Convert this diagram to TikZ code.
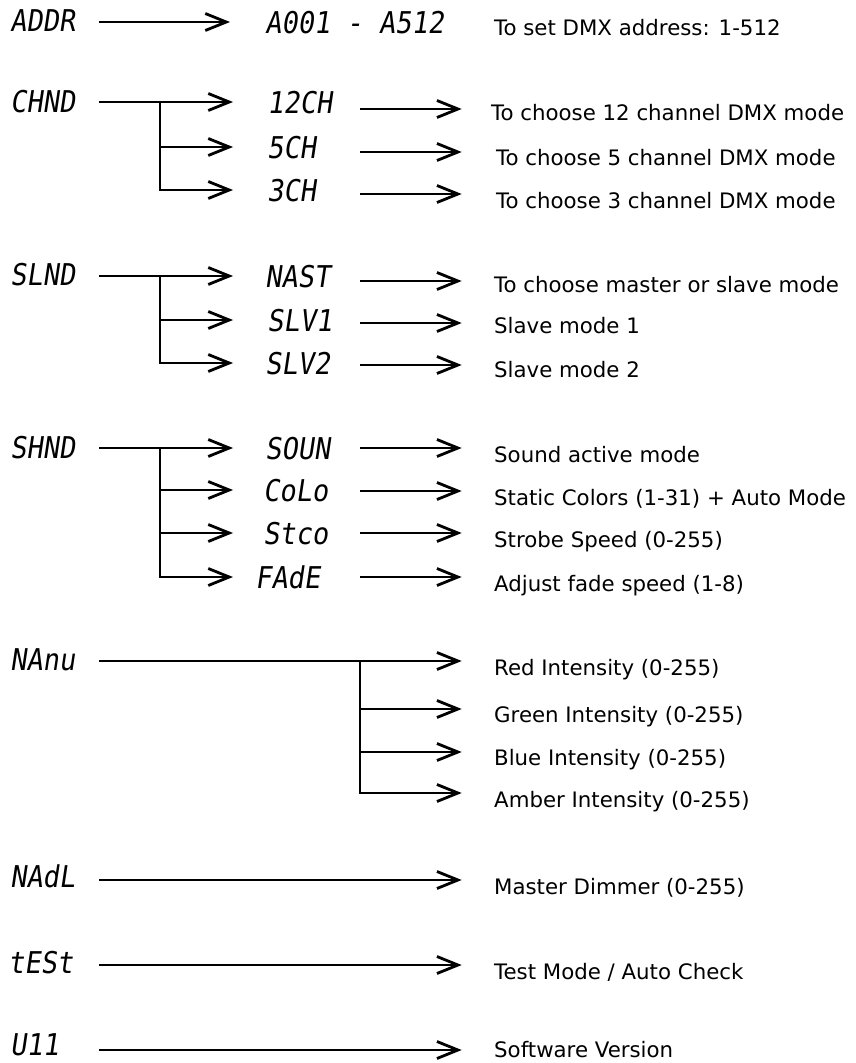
\documentclass[tikz,border=0pt]{standalone}
\usepackage{fontspec}
\usetikzlibrary{arrows.meta}
\newfontfamily\descfam{DejaVu Sans}
\newfontfamily\segfam[FakeSlant=0.15,FakeStretch=0.9]{DejaVu Sans Mono}
\newcommand\segfnt{\segfam\fontsize{30}{30}\selectfont}
\newcommand\descfnt{\descfam\fontsize{21.3}{24}\selectfont}
\tikzset{
  seg/.style={anchor=base west, inner sep=0pt, font=\segfnt},
  desc/.style={anchor=base west, inner sep=0pt, font=\descfnt},
  ln/.style={line width=2.8pt},
  arr/.style={line width=2.8pt, -{Straight Barb[length=21pt,width=17pt,line width=2.8pt]}}
}
\begin{document}
\begin{tikzpicture}[x=1pt,y=-1pt]
\useasboundingbox (0,0) rectangle (855,1063);

% ---------- ADDR ----------
\node[seg] (addr) at (10,31) {ADDR};
\coordinate (addrS) at (99,22);
\coordinate (addrE) at (230,22);
\draw[arr] (addrS) -- (addrE);
\node[seg] (addrV) at (265,33) {A001 - A512};
\node[desc] (addrD) at (494,35) {To set DMX address: 1-512};

% ---------- CHND ----------
\node[seg] (chnd) at (10,112) {CHND};
\coordinate (chS) at (99,102);
\coordinate (chJ) at (160,102);
\coordinate (chA) at (233,102);
\coordinate (chB) at (233,147);
\coordinate (chC) at (233,190);
\draw[arr] (chS) -- (chA);
\draw[arr] (chJ) |- (chC);
\draw[arr] (chJ |- chB) -- (chB);
\node[seg] (ch12) at (267,113) {12CH};
\node[seg] (ch5)  at (267,158) {5CH};
\node[seg] (ch3)  at (267,201) {3CH};
\coordinate (c12a) at (360,109); \coordinate (c12b) at (461.7,109);
\coordinate (c5a)  at (360,152); \coordinate (c5b)  at (461.7,152);
\coordinate (c3a)  at (360,194); \coordinate (c3b)  at (461.7,194);
\draw[arr] (c12a) -- (c12b);
\draw[arr] (c5a) -- (c5b);
\draw[arr] (c3a) -- (c3b);
\node[desc] (d12) at (491,120) {To choose 12 channel DMX mode};
\node[desc] (d5)  at (496,165) {To choose 5 channel DMX mode};
\node[desc] (d3)  at (496,208) {To choose 3 channel DMX mode};

% ---------- SLND ----------
\node[seg] (slnd) at (10,285) {SLND};
\coordinate (slS) at (99,276);
\coordinate (slJ) at (160,276);
\coordinate (slA) at (233,276);
\coordinate (slB) at (233,320);
\coordinate (slC) at (233,363);
\draw[arr] (slS) -- (slA);
\draw[arr] (slJ) |- (slC);
\draw[arr] (slJ |- slB) -- (slB);
\node[seg] (mast) at (265,287) {NAST};
\node[seg] (slv1) at (267,331) {SLV1};
\node[seg] (slv2) at (265,374) {SLV2};
\coordinate (mA) at (360,281); \coordinate (mB) at (461.7,281);
\coordinate (s1A) at (360,323); \coordinate (s1B) at (461.7,323);
\coordinate (s2A) at (360,365); \coordinate (s2B) at (461.7,365);
\draw[arr] (mA) -- (mB);
\draw[arr] (s1A) -- (s1B);
\draw[arr] (s2A) -- (s2B);
\node[desc] (dm)  at (494,292) {To choose master or slave mode};
\node[desc] (ds1) at (494,333) {Slave mode 1};
\node[desc] (ds2) at (494,377) {Slave mode 2};

% ---------- SHND ----------
\node[seg] (shnd) at (10,458) {SHND};
\coordinate (shS) at (99,448);
\coordinate (shJ) at (160,448);
\coordinate (shA) at (233,448);
\coordinate (shB) at (233,490);
\coordinate (shC) at (233,533);
\coordinate (shD) at (233,577);
\draw[arr] (shS) -- (shA);
\draw[arr] (shJ) |- (shD);
\draw[arr] (shJ |- shB) -- (shB);
\draw[arr] (shJ |- shC) -- (shC);
\node[seg] (soun) at (265,459) {SOUN};
\node[seg] (colo) at (263,501) {CoLo};
\node[seg] (stco) at (263,544) {Stco};
\node[seg] (fade) at (255,588) {FAdE};
\coordinate (soA) at (360,448); \coordinate (soB) at (461.7,448);
\coordinate (coA) at (360,491); \coordinate (coB) at (461.7,491);
\coordinate (stA) at (360,533); \coordinate (stB) at (461.7,533);
\coordinate (faA) at (360,577); \coordinate (faB) at (461.7,577);
\draw[arr] (soA) -- (soB);
\draw[arr] (coA) -- (coB);
\draw[arr] (stA) -- (stB);
\draw[arr] (faA) -- (faB);
\node[desc] (dso) at (494,462) {Sound active mode};
\node[desc] (dco) at (494,505) {Static Colors (1-31) + Auto Mode};
\node[desc] (dst) at (494,547) {Strobe Speed (0-255)};
\node[desc] (dfa) at (494,591) {Adjust fade speed (1-8)};

% ---------- NAnu ----------
\node[seg] (nanu) at (10,670) {NAnu};
\coordinate (nuS) at (99,661);
\coordinate (nuJ) at (360,661);
\coordinate (nuA) at (461.7,661);
\coordinate (nuB) at (461.7,709);
\coordinate (nuC) at (461.7,752);
\coordinate (nuD) at (461.7,793);
\draw[arr] (nuS) -- (nuA);
\draw[arr] (nuJ) |- (nuD);
\draw[arr] (nuJ |- nuB) -- (nuB);
\draw[arr] (nuJ |- nuC) -- (nuC);
\node[desc] (dr) at (494,675) {Red Intensity (0-255)};
\node[desc] (dg) at (494,722) {Green Intensity (0-255)};
\node[desc] (db) at (494,765) {Blue Intensity (0-255)};
\node[desc] (da) at (494,807) {Amber Intensity (0-255)};

% ---------- NAdL ----------
\node[seg] (nadl) at (10,887) {NAdL};
\coordinate (ndS) at (99,880); \coordinate (ndE) at (461.7,880);
\draw[arr] (ndS) -- (ndE);
\node[desc] (dnd) at (494,894) {Master Dimmer (0-255)};

% ---------- tESt ----------
\node[seg] (test) at (8,973) {tESt};
\coordinate (tsS) at (99,965); \coordinate (tsE) at (461.7,965);
\draw[arr] (tsS) -- (tsE);
\node[desc] (dts) at (494,979) {Test Mode / Auto Check};

% ---------- U11 ----------
\node[seg] (ver) at (10,1055) {U11};
\coordinate (vS) at (99,1050); \coordinate (vE) at (461.7,1050);
\draw[arr] (vS) -- (vE);
\node[desc] (dv) at (494,1057) {Software Version};
\end{tikzpicture}
\end{document}
